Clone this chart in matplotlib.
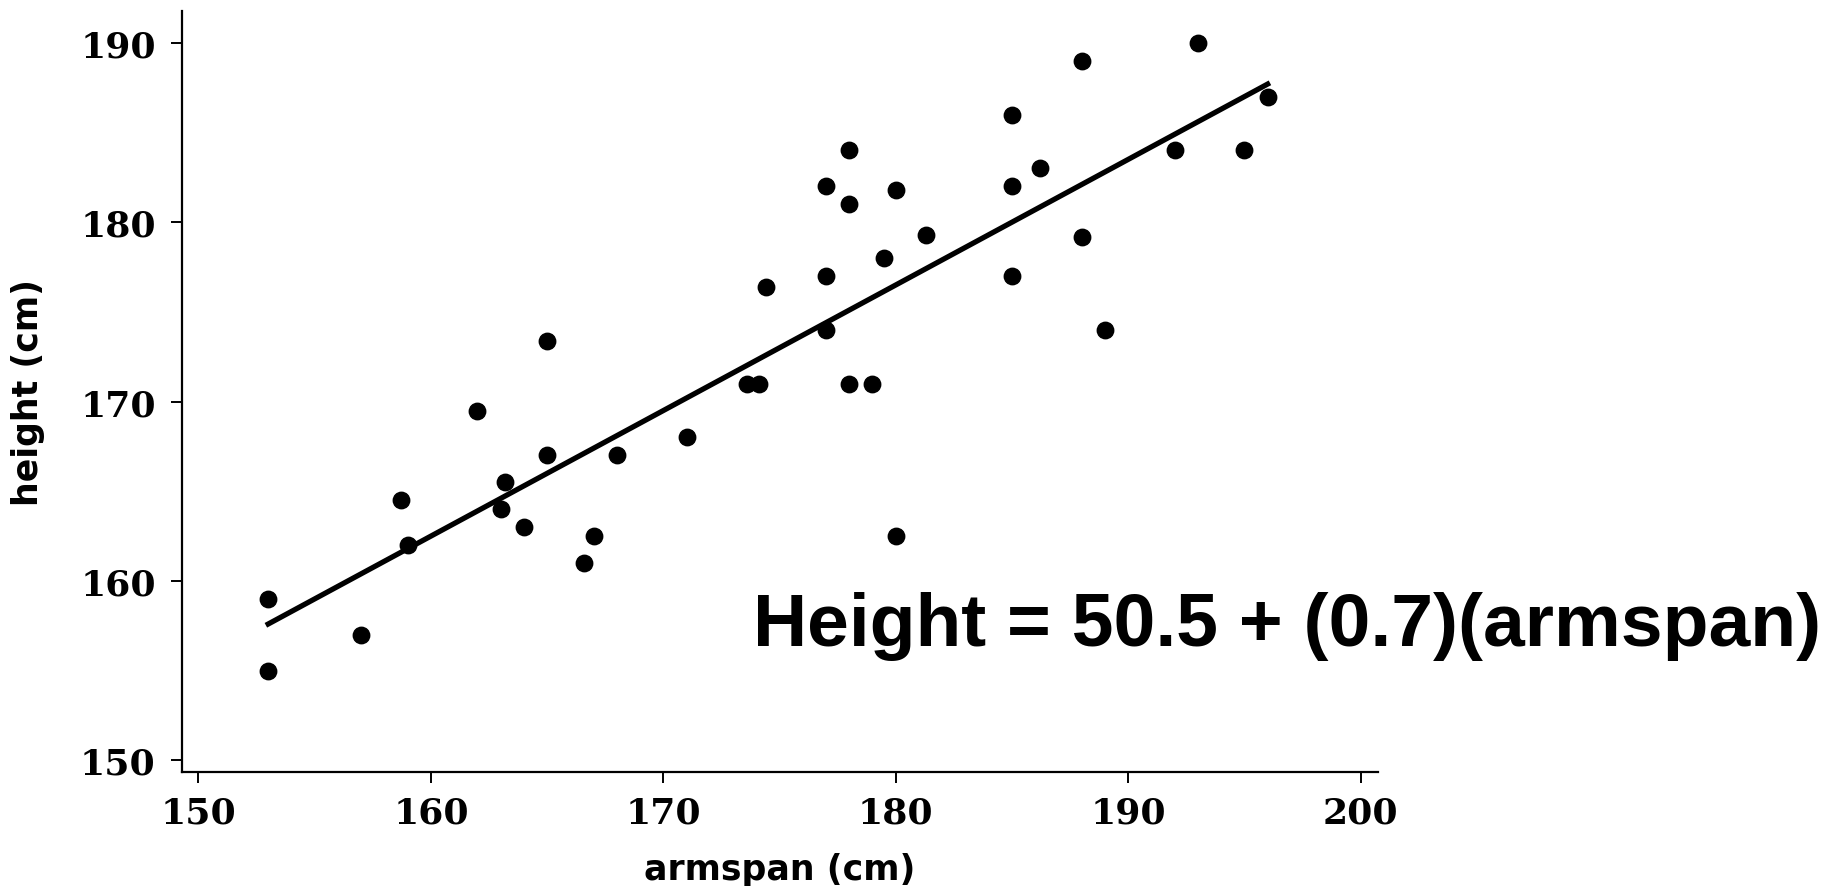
import matplotlib
matplotlib.use("Agg")
import matplotlib.pyplot as plt
import numpy as np

# armspan vs height (cm)
armspan = [153, 153, 157, 158.7, 159, 162, 163.2, 163, 164, 165, 165, 166.6, 167,
           168, 171, 173.6, 174.1, 174.4, 177, 177, 177, 178, 178, 178, 179, 179.5,
           180, 180, 181.3, 185, 185, 185, 186.2, 188, 188, 189, 192, 193, 195, 196]
height = [159, 155, 157, 164.5, 162, 169.5, 165.5, 164, 163, 173.4, 167, 161, 162.5,
          167, 168, 171, 171, 176.4, 182, 177, 174, 184, 181, 171, 171, 178,
          181.8, 162.5, 179.3, 186, 182, 177, 183, 189, 179.2, 174, 184, 190, 184, 187]

intercept = 50.5
slope = 0.7
equation = "Height = 50.5 + (0.7)(armspan)"

xticks = [150, 160, 170, 180, 190, 200]
yticks = [150, 160, 170, 180, 190]

fig = plt.figure(figsize=(18.31, 8.87), dpi=100)
ax = fig.add_axes([0.0995, 0.1285, 0.6531, 0.8585])

ax.scatter(armspan, height, s=140, color="black", zorder=3)

xs = np.array([min(armspan), max(armspan)])
ax.plot(xs, intercept + slope * xs, color="black", lw=3.8, zorder=2)

ax.set_xlim(149.3, 200.75)
ax.set_ylim(149.35, 191.8)
ax.set_xticks(xticks)
ax.set_yticks(yticks)

for s in ["top", "right"]:
    ax.spines[s].set_visible(False)
for s in ["left", "bottom"]:
    ax.spines[s].set_linewidth(1.6)

ax.tick_params(direction="out", length=8, width=1.4)
ax.tick_params(axis="x", pad=9)
ax.tick_params(axis="y", pad=11)
for lab in ax.get_xticklabels() + ax.get_yticklabels():
    lab.set_fontfamily("DejaVu Serif")
    lab.set_fontweight("bold")
    lab.set_fontsize(26)

ax.set_xlabel("armspan (cm)", fontfamily="DejaVu Sans", fontweight="bold",
              fontsize=25, va="top")
ax.set_ylabel("height (cm)", fontfamily="DejaVu Sans", fontweight="bold",
              fontsize=25)
ax.xaxis.set_label_coords(0.5, -0.105)
ax.yaxis.set_label_coords(-0.1145, 0.5)

fig.text(0.411, 0.2717, equation, fontfamily="Liberation Sans",
         fontweight="bold", fontsize=54, va="baseline", ha="left")

fig.savefig("out.png", dpi=100)
